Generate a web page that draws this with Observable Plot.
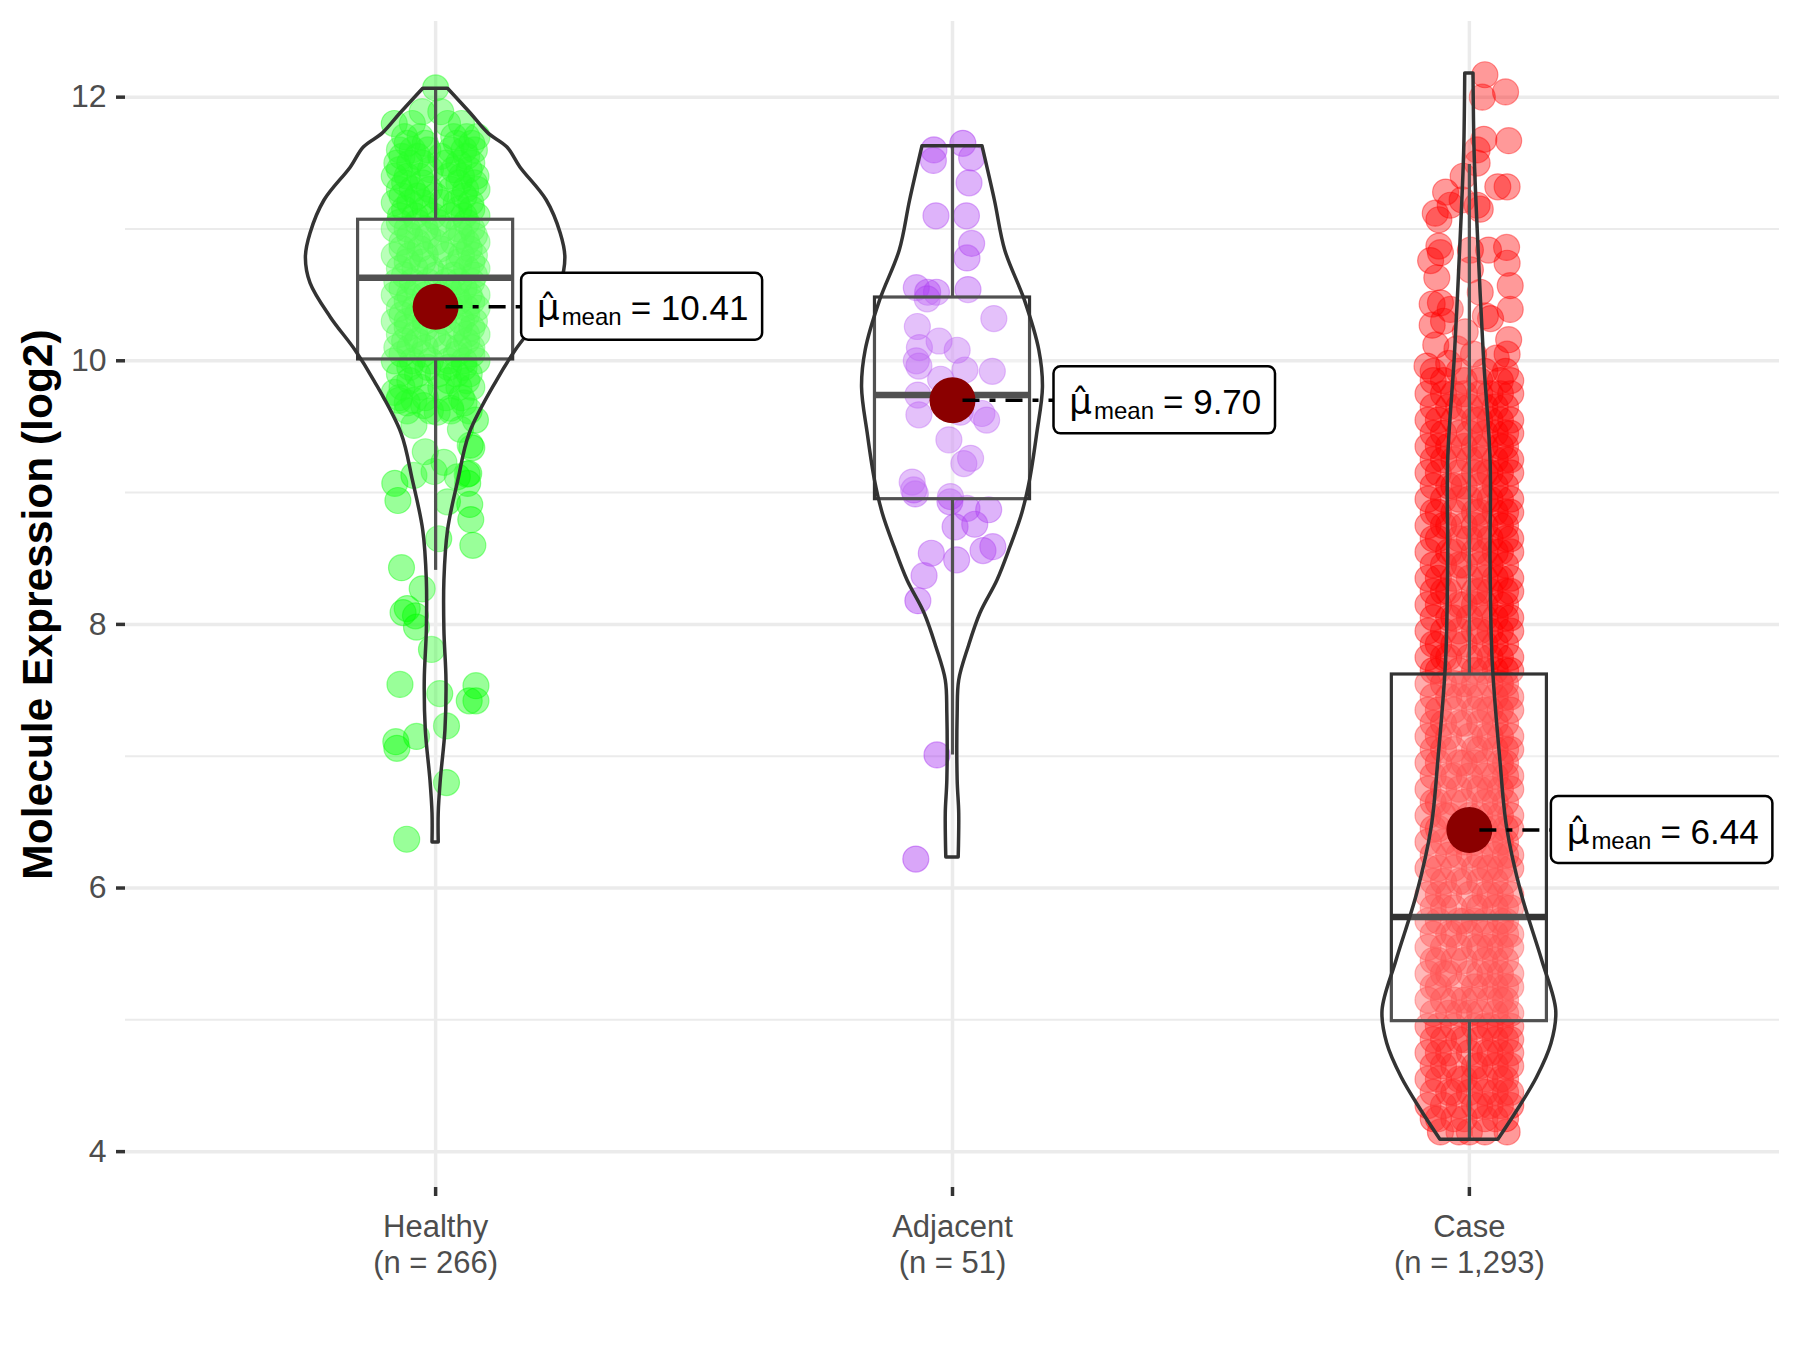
<!DOCTYPE html>
<html><head><meta charset="utf-8">
<script src="https://cdn.jsdelivr.net/npm/d3@7"></script>
<script src="https://cdn.jsdelivr.net/npm/@observablehq/plot@0.6"></script>
<style>html,body{margin:0;padding:0;background:#fff;}</style>
</head><body><div id="chart"></div>
<script>
// ---------- data ----------
const groups = ["Healthy", "Adjacent", "Case"];
const groupN = ["266", "51", "1,293"];
const meanValues = [10.41, 9.70, 6.44];
const meanLabels = ["10.41", "9.70", "6.44"];
const q1 = [10.01, 8.95, 4.99];
const medians = [10.63, 9.74, 5.78];
const q3 = [11.07, 10.48, 7.62];
const whiskerLow = [8.41, 7.01, 4.09];
const whiskerHigh = [12.06, 11.63, 11.49];
const yTicks = [4, 6, 8, 10, 12];
const yMinor = [5, 7, 9, 11];
const colors = ["#00FF00", "#A020F0", "#FF0000"];

// violin outlines: value, half-width (in category widths)
const healthyViolinY = [6.346, 6.566, 6.816, 7.196, 7.575, 7.954, 8.333, 8.713, 9.092, 9.448, 9.85, 10.078, 10.329, 10.587, 10.784, 10.966, 11.216, 11.467, 11.618, 11.725, 11.876, 12.064];
const healthyViolinW = [0.006, 0.006, 0.010, 0.019, 0.021, 0.017, 0.017, 0.024, 0.044, 0.066, 0.119, 0.155, 0.203, 0.242, 0.251, 0.242, 0.215, 0.164, 0.139, 0.102, 0.068, 0.024];
const adjacentViolinY = [6.232, 6.566, 6.816, 7.325, 7.575, 7.825, 8.083, 8.333, 8.584, 8.842, 9.092, 9.448, 9.797, 10.078, 10.458, 10.837, 11.216, 11.628];
const adjacentViolinW = [0.012, 0.013, 0.010, 0.010, 0.013, 0.031, 0.054, 0.087, 0.112, 0.135, 0.150, 0.164, 0.175, 0.168, 0.140, 0.102, 0.082, 0.058];
const caseViolinY = [4.09, 4.312, 4.562, 4.82, 5.07, 5.449, 5.957, 6.458, 6.967, 7.726, 8.485, 9.244, 10.04, 11.087, 11.595, 12.18];
const caseViolinW = [0.056, 0.093, 0.131, 0.159, 0.168, 0.141, 0.101, 0.073, 0.060, 0.045, 0.041, 0.041, 0.028, 0.015, 0.010, 0.008];

// jittered points: [value, offset...] rows and [value, offset] pairs; offsets in hundredths of a category width
const healthyRows = [
  [11.89, -2.6, 1], [11.80, -8, -4.5, 2.3, 5], [11.70, -6, -3, 3.5, 6, 8], [11.65, -5.5, -2, 4, 7],
  [11.60, -7, -4.5, -1.5, 3, 5.5, 7.5], [11.55, -6.5, -3.5, 1, 6], [11.50, -7.5, -5, -2.5, 2, 4.5, 7],
  [11.45, -7, -1, 3.5, 6.5], [11.40, -8, -5.5, -3, 2.5, 5, 7.8], [11.35, -6, -2.5, 4.5, 7.5],
  [11.30, -7, -4.5, -1.2, 3, 5.8, 8], [11.25, -6.5, -3.5, 0, 5.5], [11.20, -8, -5, -2.5, 1.2, 4, 6.8],
  [11.15, -6, -2, 4.5, 7], [11.10, -6.8, -4, -0.5, 3, 5.5, 8], [11.05, -7, -3.5, 0.5, 6],
  [11.00, -8, -5.5, -2, 1.5, 4.5, 7], [10.95, -5, -1.5, 5, 7.5], [10.90, -6.5, -3.5, 0, 3.5, 6, 8],
  [10.85, -6.5, -3, 1, 6.5], [10.80, -8, -5, -2, 2, 5, 7.5], [10.75, -5.5, -2.5, 4.5, 7],
  [10.70, -7, -4, -1, 3, 6, 8], [10.65, -6, 0, 3.5, 7.5], [10.60, -7.5, -4.5, -1.5, 2, 4.5, 7],
  [10.55, -6.5, -3.5, 2.5, 5.5], [10.50, -8, -5, -2, 1, 4, 6.5, 8], [10.45, -5.5, -1.5, 4.5, 7],
  [10.40, -7, -4, 0, 3, 6, 8], [10.35, -6.5, -3.5, 0.5, 6], [10.30, -8, -5.5, -2, 1.5, 5, 7.5],
  [10.25, -5.5, -2, 4.5, 7], [10.20, -7, -4, -0.5, 3, 6, 8], [10.15, -6, -3.5, 0.5, 6],
  [10.10, -7.5, -5, -2, 2, 4.5, 7], [10.05, -6.5, -2.5, 4, 7], [10.00, -8, -4.5, -1, 2.5, 5.5, 8],
  [9.95, -5, -1.5, 2.5, 5.5], [9.90, -7, -3.5, 0.5, 4, 6.5], [9.85, -5, 2.5, 6],
  [9.80, -6.5, -3, 1, 4.5, 7], [9.72, -7, -2, 2, 5], [9.62, -5.5, -1, 3, 6.5]
];
const healthyPairs = [
  [12.07, 0], [9.76, -8.0], [9.70, -7.1], [9.68, -5.5], [9.70, -4.2], [9.66, -2.3], [9.61, 0.3], [9.64, 2.9],
  [9.68, 5.5], [9.55, 7.7], [9.51, -4.2], [9.48, 4.8], [9.36, 6.7], [9.34, 7.0], [9.31, -2.0], [9.23, 1.6],
  [9.16, -0.3], [9.13, -4.2], [9.12, 4.2], [9.14, 6.1], [9.07, -7.9], [8.94, -7.3], [9.145, 6.4], [9.07, 6.2],
  [8.91, 6.6], [8.795, 6.8], [8.60, 7.2], [8.93, 2.3], [8.65, 0.6], [8.43, -6.6], [8.27, -2.6], [8.12, -5.5],
  [8.09, -6.3], [8.065, -3.9], [7.98, -3.7], [7.81, -0.8], [7.545, -6.9], [7.475, 0.8], [7.535, 7.8],
  [7.42, 6.5], [7.42, 7.8], [7.23, 2.1], [7.11, -7.7], [7.06, -7.5], [7.15, -3.7], [6.80, 2.1], [6.37, -5.6]
];
const adjacentPairs = [
  [11.60, -3.6], [11.52, -3.7], [11.65, 2.0], [11.54, 3.7], [11.35, 3.2], [11.10, -3.2], [11.10, 2.7],
  [10.89, 3.7], [10.78, 2.8], [10.555, -7.0], [10.52, -4.8], [10.52, -3.1], [10.47, -4.9], [10.54, 3.0],
  [10.32, 8.0], [10.26, -6.8], [10.10, -6.4], [10.15, -2.6], [10.08, 0.9], [10.00, -7.0], [9.96, -6.5],
  [9.93, 2.4], [9.92, 7.7], [9.86, -2.3], [9.74, -6.7], [9.59, -6.5], [9.61, 1.5], [9.60, 5.7], [9.55, 6.6],
  [9.40, -0.7], [9.22, 2.2], [9.26, 3.5], [9.08, -7.8], [9.02, -7.5], [8.97, -0.4], [8.99, -7.2], [8.93, -0.5],
  [8.88, 2.8], [8.87, 7.0], [8.74, 0.5], [8.76, 4.3], [8.54, -4.1], [8.49, 0.8], [8.56, 5.9], [8.59, 7.8],
  [8.37, -5.5], [8.18, -6.7], [7.01, -3.0], [6.22, -7.1], [9.70, 0.3], [9.75, -1.0]
];
const casePairs = [
  [12.17, 3.0], [12.04, 7.0], [12.00, 2.5], [11.68, 2.8], [11.67, 7.6], [11.60, 1.5], [11.50, 1.5], [11.40, -1.2],
  [11.28, -4.6], [11.32, 5.5], [11.32, 7.3], [11.12, -6.6], [11.07, -5.9], [11.18, -3.7], [11.22, -1.4],
  [11.18, 1.5], [11.15, 2.1], [10.76, -7.5], [10.82, -5.6], [10.87, -5.9], [10.63, -6.3], [10.84, 0.2],
  [10.69, 0.2], [10.84, 3.7], [10.86, 7.2], [10.74, 7.3], [10.57, 7.9], [10.39, 7.9], [10.43, -7.2],
  [10.44, -5.6], [10.27, -7.2], [10.30, -5.0], [10.39, -3.7], [10.52, 2.1], [10.34, 3.1], [10.32, 4.1],
  [10.16, 7.6], [10.05, 7.3], [10.22, -0.8], [10.09, -2.4], [10.05, 0.8], [9.96, -8.2], [10.12, -6.5],
  [10.02, 5.2], [9.98, -4.0]
];
const caseRows = [
  [9.92, -7, -2, 3, 7], [9.85, -7, -5, -1, 2, 6, 8], [9.75, -8, -5, -3, -1, 2, 4, 6, 8],
  [9.65, -7, -4, -2, 0, 3, 5, 7], [9.55, -8, -6, -3, 1, 2, 4, 6, 8], [9.45, -7, -5, -2, 0, 3, 5, 7, 8],
  [9.35, -8, -6, -4, -1, 1, 3, 6, 7], [9.25, -7, -5, -3, 0, 2, 5, 7, 8], [9.15, -8, -6, -2, 1, 3, 4, 6, 8],
  [9.05, -7, -4, -3, -1, 2, 5, 7], [8.95, -8, -5, -2, 0, 3, 4, 6, 8], [8.85, -7, -6, -3, 1, 2, 5, 7, 8],
  [8.75, -8, -5, -4, -1, 1, 3, 6, 7], [8.65, -7, -6, -2, 0, 2, 4, 7, 8], [8.55, -8, -4, -3, 1, 3, 5, 6, 8],
  [8.45, -7, -5, -2, -1, 2, 4, 7], [8.35, -8, -6, -3, 0, 3, 5, 6, 8], [8.25, -7, -5, -4, 1, 2, 4, 7, 8],
  [8.15, -8, -6, -2, -1, 1, 3, 6, 7], [8.05, -7, -4, -3, 0, 3, 5, 7, 8], [7.95, -8, -5, -2, 1, 2, 4, 6, 8],
  [7.85, -7, -6, -3, -1, 3, 5, 7], [7.75, -8, -5, -4, 0, 2, 4, 6, 8], [7.65, -7, -6, -2, 1, 3, 5, 7, 8],
  [7.55, -8, -5, -3, -1, 1, 4, 6, 7], [7.45, -7, -4, -2, 0, 2, 5, 7, 8], [7.35, -8, -6, -3, 1, 3, 4, 6, 8],
  [7.25, -7, -5, -2, -1, 2, 5, 7], [7.15, -8, -6, -4, 0, 3, 4, 6, 8], [7.05, -7, -5, -3, 1, 2, 5, 7, 8],
  [6.95, -8, -6, -2, -1, 1, 3, 6, 7], [6.85, -7, -4, -3, 0, 3, 5, 7, 8], [6.75, -8, -5, -2, 1, 2, 4, 6, 8],
  [6.65, -7, -6, -3, -1, 3, 5, 7], [6.55, -8, -5, -4, 0, 2, 4, 6, 8], [6.45, -7, -6, -2, 1, 3, 5, 7, 8],
  [6.35, -8, -5, -3, -1, 1, 4, 6, 7], [6.25, -7, -4, -2, 0, 2, 5, 7, 8], [6.15, -8, -6, -3, 1, 3, 4, 6, 8],
  [6.05, -7, -5, -2, -1, 2, 5, 7], [5.95, -8, -6, -4, 0, 3, 4, 6, 8], [5.85, -7, -5, -3, 1, 2, 5, 7, 8],
  [5.75, -8, -6, -2, -1, 1, 3, 6, 7], [5.65, -7, -4, -3, 0, 3, 5, 7, 8], [5.55, -8, -5, -2, 1, 2, 4, 6, 8],
  [5.45, -7, -6, -3, -1, 3, 5, 7], [5.35, -8, -5, -4, 0, 2, 4, 6, 8], [5.25, -7, -6, -2, 1, 3, 5, 7, 8],
  [5.15, -8, -5, -3, -1, 1, 4, 6, 7], [5.05, -7, -4, -2, 0, 2, 5, 7, 8], [4.95, -8, -6, -3, 1, 3, 4, 6, 8],
  [4.85, -7, -5, -2, -1, 2, 5, 7, 8], [4.75, -8, -6, -4, 0, 3, 4, 6, 8], [4.65, -7, -5, -3, 1, 2, 5, 7, 8],
  [4.55, -8, -6, -2, -1, 1, 3, 6, 7], [4.45, -7, -4, -3, 0, 3, 5, 7, 8], [4.35, -8, -5, -2, 1, 2, 4, 6, 8],
  [4.25, -7, -6, -3, -1, 3, 5, 7], [4.15, -5.6, -2, 0, 3, 7.3]
];

// ---------- layout / style ----------
const W = 1800, H = 1350, mL = 125, mR = 21, mT = 21, mB = 163;
const yDomain = [3.728, 12.574];
const xDomain = [0.4, 3.6];
const pxX = (W - mL - mR) / (xDomain[1] - xDomain[0]);
const pxY = (H - mT - mB) / (yDomain[1] - yDomain[0]);
const labelOffsetPx = [86, 101.5, 82];
const labelWidthPx = [241, 221.5, 221.5];
const labelHalfHeightPx = 33.5;
const boxHalf = 0.15;
const ink = "#333333";

// ---------- build tables ----------
function fromRows(rows, g) {
  const out = [];
  for (const r of rows) for (let i = 1; i < r.length; i++) out.push({g, y: r[0], dx: r[i] / 100});
  return out;
}
function fromPairs(pairs, g) { return pairs.map(([y, dx]) => ({g, y, dx: dx / 100})); }
const pts = [
  fromRows(healthyRows, 1).concat(fromPairs(healthyPairs, 1)),
  fromPairs(adjacentPairs, 2),
  fromRows(caseRows, 3).concat(fromPairs(casePairs, 3))
];
const violins = [];
[[healthyViolinY, healthyViolinW], [adjacentViolinY, adjacentViolinW], [caseViolinY, caseViolinW]]
  .forEach(([ys, ws], i) => ys.forEach((y, j) => violins.push({g: i + 1, y, w: ws[j]})));
const stats = groups.map((name, i) => ({
  g: i + 1, q1: q1[i], med: medians[i], q3: q3[i], lo: whiskerLow[i], hi: whiskerHigh[i]
}));
const means = groups.map((name, i) => {
  const left = i + 1 + labelOffsetPx[i] / pxX;
  return {
    g: i + 1, mean: meanValues[i], label: meanLabels[i], left,
    right: left + labelWidthPx[i] / pxX,
    bot: meanValues[i] - labelHalfHeightPx / pxY,
    top: meanValues[i] + labelHalfHeightPx / pxY
  };
});

const dotMarks = pts.map((data, i) => Plot.dot(data, {
  x: d => d.g + d.dx, y: "y", r: 13,
  fill: colors[i], fillOpacity: 0.4, stroke: colors[i], strokeOpacity: 0.4, strokeWidth: 1.2
}));

const chart = Plot.plot({
  width: W, height: H,
  marginLeft: mL, marginRight: mR, marginTop: mT, marginBottom: mB,
  x: {domain: xDomain},
  y: {domain: yDomain},
  style: {fontFamily: "'Liberation Sans', Arial, sans-serif", background: "white"},
  marks: [
    Plot.ruleY(yMinor, {stroke: "#EBEBEB", strokeWidth: 2}),
    Plot.ruleY(yTicks, {stroke: "#EBEBEB", strokeWidth: 3.5}),
    Plot.ruleX([1, 2, 3], {stroke: "#EBEBEB", strokeWidth: 3.5}),
    Plot.axisY(yTicks, {tickSize: 9, tickPadding: 10, fontSize: 32, tickFormat: d => String(d),
      stroke: ink, strokeWidth: 3.5, fill: "#4D4D4D", label: null}),
    Plot.axisX([1, 2, 3], {
      tickSize: 9, tickPadding: 15, fontSize: 31, lineHeight: 1.16,
      tickFormat: d => `${groups[d - 1]}\n(n = ${groupN[d - 1]})`,
      stroke: ink, strokeWidth: 3.5, fill: "#4D4D4D", label: null
    }),
    Plot.text(["Molecule Expression (log2)"], {
      frameAnchor: "left", dx: -87, rotate: -90, textAnchor: "middle", lineAnchor: "middle",
      fontSize: 42.5, fontWeight: "bold", fill: "black"
    }),
    ...dotMarks,
    Plot.rect(stats, {x1: d => d.g - boxHalf, x2: d => d.g + boxHalf, y1: "q1", y2: "q3",
      fill: "white", fillOpacity: 0.2, stroke: ink, strokeWidth: 3.2}),
    Plot.ruleY(stats, {x1: d => d.g - boxHalf, x2: d => d.g + boxHalf, y: "med", stroke: ink, strokeWidth: 6.4}),
    Plot.ruleX(stats, {x: "g", y1: "q3", y2: "hi", stroke: ink, strokeWidth: 3.2}),
    Plot.ruleX(stats, {x: "g", y1: "lo", y2: "q1", stroke: ink, strokeWidth: 3.2}),
    Plot.areaX(violins, {y: "y", x1: d => d.g - d.w, x2: d => d.g + d.w, z: "g",
      fill: "white", fillOpacity: 0.15, stroke: ink, strokeWidth: 3.5, curve: "catmull-rom"}),
    Plot.dot(means, {x: "g", y: "mean", r: 23, fill: "#8B0000"}),
    Plot.link(means, {x1: "g", x2: "left", y1: "mean", y2: "mean", stroke: "black", strokeWidth: 3.5,
      strokeDasharray: "17,10,6,10", strokeDashoffset: 33}),
    Plot.rect(means, {x1: "left", x2: "right", y1: "bot", y2: "top", fill: "white", stroke: "black", strokeWidth: 2.5, rx: 7}),
    Plot.text(means, {x: "left", y: "mean", text: () => "\u03BC\u0302", dx: 15, dy: 13.7, textAnchor: "start", lineAnchor: "bottom", fontSize: 36, fontFamily: "DejaVu Sans", fill: "black"}),
    Plot.text(means, {x: "left", y: "mean", text: () => "mean", dx: 40, dy: 18.7, textAnchor: "start", lineAnchor: "bottom", fontSize: 24, fill: "black"}),
    Plot.text(means, {x: "left", y: "mean", text: d => "= " + d.label, dx: 109, dy: 13.7, textAnchor: "start", lineAnchor: "bottom", fontSize: 35, fill: "black"})
  ]
});
document.getElementById("chart").appendChild(chart);
</script>
</body></html>
